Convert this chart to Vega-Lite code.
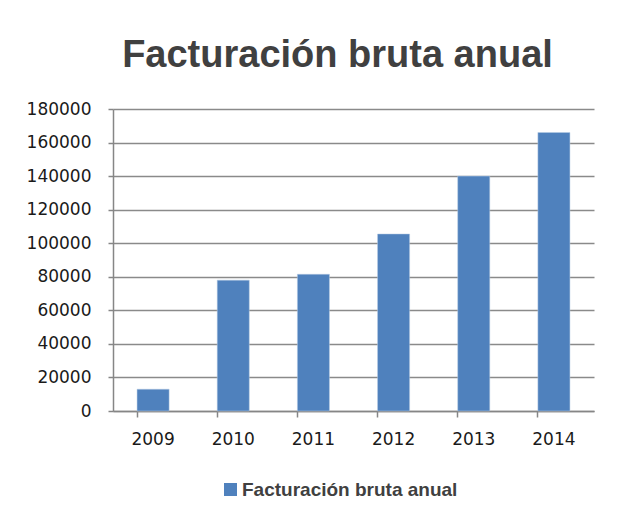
{
  "$schema": "https://vega.github.io/schema/vega-lite/v6.json",
  "autosize": "none",
  "width": 481,
  "height": 302,
  "padding": {"left": 113, "top": 109, "right": 30, "bottom": 111},
  "background": "white",
  "title": {
    "text": "Facturación bruta anual",
    "font": "Liberation Sans",
    "fontSize": 38,
    "fontWeight": "bold",
    "color": "#404040",
    "anchor": "middle",
    "baseline": "alphabetic",
    "dx": -16,
    "dy": 47,
    "offset": 42
  },
  "data": {
    "values": [
      {"year": "2009", "value": 13000, "serie": "Facturación bruta anual"},
      {"year": "2010", "value": 78000, "serie": "Facturación bruta anual"},
      {"year": "2011", "value": 81500, "serie": "Facturación bruta anual"},
      {"year": "2012", "value": 105500, "serie": "Facturación bruta anual"},
      {"year": "2013", "value": 140000, "serie": "Facturación bruta anual"},
      {"year": "2014", "value": 166000, "serie": "Facturación bruta anual"}
    ]
  },
  "mark": {"type": "bar", "stroke": "#b9cde5", "strokeWidth": 0.5},
  "encoding": {
    "x": {
      "field": "year",
      "type": "ordinal",
      "scale": {"paddingInner": 0.6, "paddingOuter": 0.3},
      "axis": {
        "title": null,
        "labelAngle": 0,
        "labelFont": "DejaVu Sans",
        "labelFontSize": 17,
        "labelColor": "#1a1a1a",
        "labelPadding": 14,
        "bandPosition": 0,
        "tickSize": 6,
        "tickColor": "#868686",
        "domainColor": "#868686",
        "domainWidth": 1.5,
        "tickWidth": 1.5,
        "grid": false
      }
    },
    "y": {
      "field": "value",
      "type": "quantitative",
      "scale": {"domain": [0, 180000], "nice": false},
      "axis": {
        "title": null,
        "values": [0, 20000, 40000, 60000, 80000, 100000, 120000, 140000, 160000, 180000],
        "format": "d",
        "labelFont": "DejaVu Sans",
        "labelFontSize": 17,
        "labelColor": "#1a1a1a",
        "labelPadding": 17,
        "tickSize": 5,
        "tickColor": "#868686",
        "tickWidth": 1.5,
        "domainColor": "#868686",
        "domainWidth": 1.5,
        "gridColor": "#8a8a8a",
        "gridWidth": 1.5
      }
    },
    "color": {
      "field": "serie",
      "type": "nominal",
      "scale": {"range": ["#4f81bd"]},
      "legend": {
        "title": null,
        "orient": "none",
        "legendX": 108,
        "legendY": 371,
        "direction": "horizontal",
        "symbolType": "square",
        "symbolSize": 169,
        "symbolStrokeWidth": 0,
        "labelFont": "Liberation Sans",
        "labelFontSize": 19,
        "labelFontWeight": "bold",
        "labelColor": "#404040",
        "labelOffset": 2,
        "labelLimit": 400
      }
    }
  },
  "config": {"view": {"stroke": null}}
}
